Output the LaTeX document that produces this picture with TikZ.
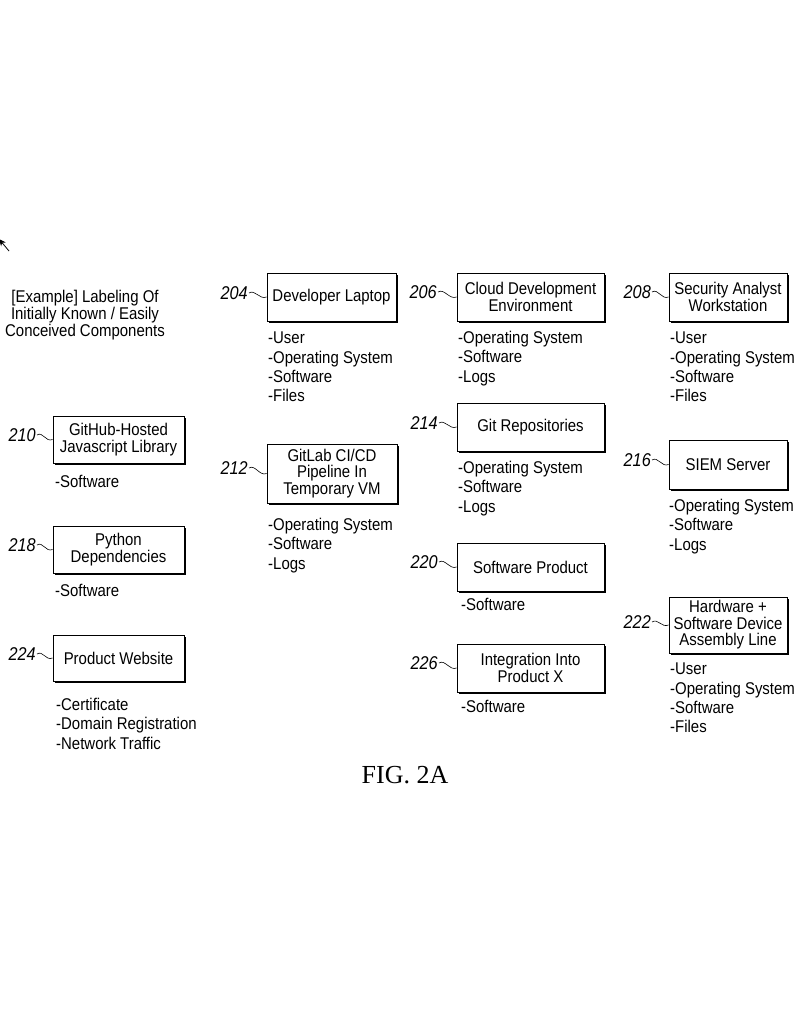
\documentclass[tikz,border=0pt]{standalone}
\usepackage{fontspec}
\setmainfont{Liberation Sans}[FakeStretch=0.88]
\newfontfamily\figfont{Liberation Serif}
\usetikzlibrary{shadows,arrows.meta}
\tikzset{
  compbox/.style={draw, line width=0.9pt, fill=white, align=center, inner sep=1pt,
    font=\fontsize{17}{16.5}\selectfont,
    drop shadow={shadow xshift=1.6pt, shadow yshift=-1.6pt, fill=black, opacity=1}},
  reflabel/.style={anchor=east, inner sep=0pt, font=\fontsize{18.5}{18}\selectfont\itshape},
  attrlist/.style={anchor=north west, inner sep=0pt, align=left, font=\fontsize{17}{19.3}\selectfont},
  squig/.style={line width=0.6pt}
}
\begin{document}
\begin{tikzpicture}[x=1pt,y=-1pt]
\useasboundingbox (0,0) rectangle (794,1024);
\clip (0,0) rectangle (794,1024);
\fill[white] (0,0) rectangle (794,1024);

% top-left arrow fragment
\coordinate (arA) at (9,251);
\coordinate (arB) at (-1,239);
\draw[line width=0.8pt, -{Stealth[length=7pt,width=6pt]}] (arA) -- (arB);

% header
\node[align=center, inner sep=0pt, font=\fontsize{17}{17}\selectfont] (hdr) at (85,315)
  {[Example] Labeling Of\\Initially Known / Easily\\Conceived Components};

% boxes
\node[compbox, minimum width=129, minimum height=48] (b204) at (331.5,297) {Developer Laptop};
\node[compbox, minimum width=147, minimum height=48] (b206) at (530.5,297) {Cloud Development\\Environment};
\node[compbox, minimum width=118, minimum height=48] (b208) at (728,297) {Security Analyst\\Workstation};
\node[compbox, minimum width=131, minimum height=47] (b210) at (118.5,439.5) {GitHub-Hosted\\Javascript Library};
\node[compbox, minimum width=131, minimum height=47] (b218) at (118.5,549.5) {Python\\Dependencies};
\node[compbox, minimum width=131, minimum height=46] (b224) at (118.5,658) {Product Website};
\node[compbox, minimum width=130, minimum height=59] (b212) at (332,473.5) {GitLab CI/CD\\Pipeline In\\Temporary VM};
\node[compbox, minimum width=147, minimum height=48] (b214) at (530.5,427) {Git Repositories};
\node[compbox, minimum width=118, minimum height=49] (b216) at (728,464.5) {SIEM Server};
\node[compbox, minimum width=147, minimum height=48] (b220) at (530.5,567) {Software Product};
\node[compbox, minimum width=147, minimum height=48] (b226) at (530.5,668) {Integration Into\\Product X};
\node[compbox, minimum width=118, minimum height=56] (b222) at (728,625) {Hardware +\\Software Device\\Assembly Line};

% reference labels
\node[reflabel] (l204) at (248,293) {204};
\node[reflabel] (l206) at (437,292) {206};
\node[reflabel] (l208) at (651,292) {208};
\node[reflabel] (l210) at (36,435) {210};
\node[reflabel] (l218) at (36,545) {218};
\node[reflabel] (l224) at (36,654) {224};
\node[reflabel] (l212) at (248,468) {212};
\node[reflabel] (l214) at (438,423) {214};
\node[reflabel] (l216) at (651,460) {216};
\node[reflabel] (l220) at (438,562) {220};
\node[reflabel] (l226) at (438,663) {226};
\node[reflabel] (l222) at (651,622) {222};

\foreach \n in {204,206,208,210,218,224,212,214,216,220,226,222}{
  \draw[squig] ([xshift=1pt]l\n.east) .. controls +(6,-4) and +(-7,3) .. (b\n.west);
}

% attribute lists
\node[attrlist] (a204) at (268,332) {-User\\-Operating System\\-Software\\-Files};
\node[attrlist] (a206) at (458,331) {-Operating System\\-Software\\-Logs};
\node[attrlist] (a208) at (670,332) {-User\\-Operating System\\-Software\\-Files};
\node[attrlist] (a210) at (55,475) {-Software};
\node[attrlist] (a218) at (55,584) {-Software};
\node[attrlist] (a224) at (56,698) {-Certificate\\-Domain Registration\\-Network Traffic};
\node[attrlist] (a212) at (268,518) {-Operating System\\-Software\\-Logs};
\node[attrlist] (a214) at (458,461) {-Operating System\\-Software\\-Logs};
\node[attrlist] (a216) at (669,499) {-Operating System\\-Software\\-Logs};
\node[attrlist] (a220) at (461,598) {-Software};
\node[attrlist] (a226) at (461,700) {-Software};
\node[attrlist] (a222) at (670,663) {-User\\-Operating System\\-Software\\-Files};

% figure caption
\node[inner sep=0pt, font=\figfont\fontsize{26}{28}\selectfont] (fig) at (405,775) {FIG. 2A};
\end{tikzpicture}
\end{document}
